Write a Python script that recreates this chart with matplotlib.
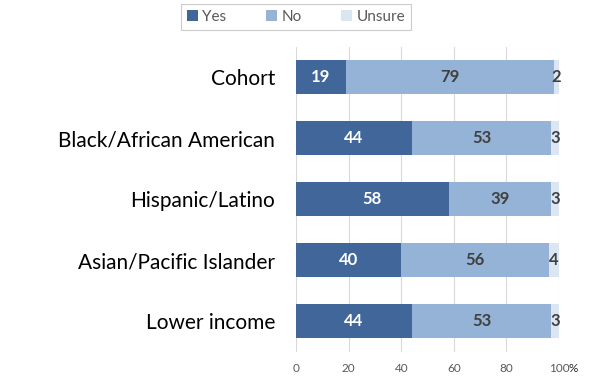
import matplotlib.pyplot as plt

# Data
categories = ['Cohort', 'Black/African American', 'Hispanic/Latino',
              'Asian/Pacific Islander', 'Lower income']
yes = [19, 44, 58, 40, 44]
no = [79, 53, 39, 56, 53]
unsure = [2, 3, 3, 4, 3]
xticks = [0, 20, 40, 60, 80, 100]
xtick_labels = ['0', '20', '40', '60', '80', '100']

plt.rcParams['font.family'] = ['Lato', 'DejaVu Sans']

fig = plt.figure(figsize=(6.07, 3.89), dpi=100)
ax = fig.add_axes([0.4877, 0.0964, 0.4333, 0.784])

y = list(range(len(categories)))
colors = ['#41679A', '#95B3D7', '#DCE6F2']
text_colors = ['white', '#404040', '#404040']
series = [('Yes', yes), ('No', no), ('Unsure', unsure)]

left = [0] * len(categories)
for (name, vals), c, tc in zip(series, colors, text_colors):
    bars = ax.barh(y, vals, left=left, height=0.56, color=c, label=name, zorder=3)
    for b, v in zip(bars, vals):
        ax.text(b.get_x() + b.get_width() / 2, b.get_y() + b.get_height() / 2,
                str(v), ha='center', va='center', color=tc,
                fontsize=12, fontweight='bold', zorder=4)
    left = [l + v for l, v in zip(left, vals)]

ax.set_ylim(len(categories) - 0.5, -0.5)
ax.set_xlim(0, 100)
ax.set_yticks(y)
ax.set_yticklabels(categories, fontsize=15, color='black')
ax.set_xticks(xticks)
ax.set_xticklabels(xtick_labels, fontsize=8.5, color='#595959')
ax.tick_params(axis='y', length=0, pad=15)
ax.tick_params(axis='x', length=0, pad=8)
ax.grid(axis='x', color='#D9D9D9', linewidth=0.8, zorder=0)
for s in ax.spines.values():
    s.set_visible(False)

# "%" sits right after the 100 tick label
ax.annotate('%', xy=(100, 0), xycoords=('data', 'axes fraction'),
            xytext=(7, -8), textcoords='offset points',
            ha='left', va='top', fontsize=8.5, color='#262626')

leg = fig.legend(loc='upper center', bbox_to_anchor=(0.488, 0.99), ncol=3,
                 frameon=True, fancybox=False, fontsize=11, handlelength=0.7,
                 handleheight=0.7, columnspacing=2.6, handletextpad=0.3,
                 borderpad=0.4, borderaxespad=0)
leg.get_frame().set_edgecolor('#BFBFBF')
leg.get_frame().set_linewidth(0.8)
for t in leg.get_texts():
    t.set_color('#595959')

fig.savefig('out.png', dpi=100)
